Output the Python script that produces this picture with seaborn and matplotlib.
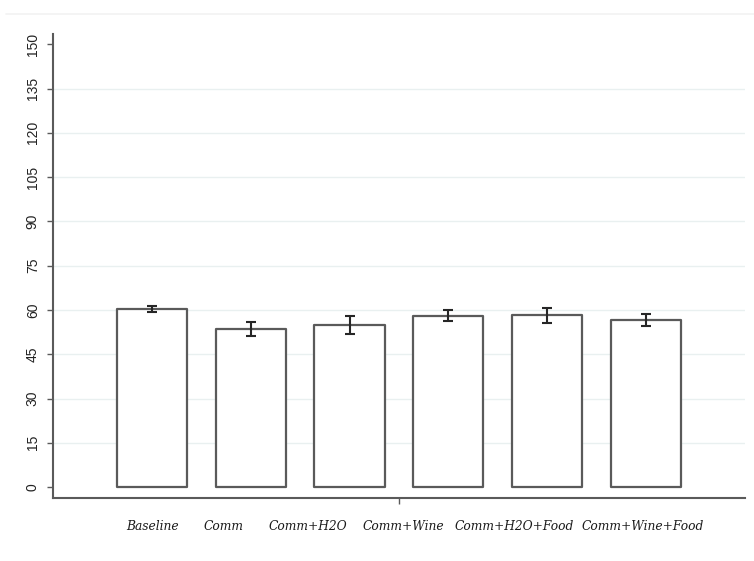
import numpy as np
import pandas as pd
import matplotlib
matplotlib.use("Agg")
import matplotlib.pyplot as plt
from matplotlib.lines import Line2D
import seaborn as sns

# Treatment groups and their mean scores with standard errors
conditions = ["Baseline", "Comm", "Comm+H2O", "Comm+Wine",
              "Comm+H2O+Food", "Comm+Wine+Food"]
means = [60.3, 53.5, 54.9, 58.1, 58.2, 56.5]
errors = [1.1, 2.4, 3.0, 1.9, 2.5, 2.0]
y_ticks = [0, 15, 30, 45, 60, 75, 90, 105, 120, 135, 150]

# horizontal placement of the category captions (axis units)
label_x = [0.01, 0.72, 1.58, 2.54, 3.67, 4.97]

df = pd.DataFrame({"condition": conditions, "mean": means, "se": errors})

sns.set_theme(style="white")
fig = plt.figure(figsize=(7.54, 5.61), dpi=100)
ax = fig.add_axes([0.0703, 0.1123, 0.9177, 0.8267])

axis_gray = "#5a5a5a"

# faint rule along the top of the figure
fig.add_artist(Line2D([0.008, 1.0], [0.975, 0.975], transform=fig.transFigure,
                      color="#f2f2f2", lw=1.2))

sns.barplot(data=df, x="condition", y="mean", order=conditions,
            color="white", edgecolor=axis_gray, linewidth=1.6,
            width=0.71, errorbar=None, ax=ax, zorder=3)
for p in ax.patches:
    p.set_joinstyle("round")

ax.errorbar(x=np.arange(len(conditions)), y=df["mean"], yerr=df["se"],
            fmt="none", ecolor="#262626", elinewidth=1.5,
            capsize=3.5, capthick=1.5, zorder=4)

ax.set_xlim(-1.0, 6.0)
ax.set_ylim(-3.7, 153.4)

# light horizontal grid lines between the end ticks
for v in y_ticks[1:-1]:
    ax.axhline(v, color="#e9f0f0", lw=1.0, zorder=1)

ax.set_yticks(y_ticks)
ax.set_yticklabels([str(v) for v in y_ticks], rotation=90, va="center",
                   fontsize=10, family=["Liberation Sans", "DejaVu Sans"],
                   color="#222222")
ax.tick_params(axis="y", direction="out", length=4.5, width=1.0,
               color=axis_gray, pad=5, left=True)

# single centred tick below the category axis
ax.set_xticks([2.5])
ax.set_xticklabels([""])
ax.tick_params(axis="x", direction="out", length=4.5, width=1.0,
               color=axis_gray, bottom=True)
for xpos, name in zip(label_x, conditions):
    ax.text(xpos, -0.0625, name, transform=ax.get_xaxis_transform(),
            ha="center", va="center", fontsize=8.8, style="italic",
            family=["DejaVu Serif", "Liberation Serif"], color="#1a1a1a")

ax.set_xlabel("")
ax.set_ylabel("")
for side in ["top", "right"]:
    ax.spines[side].set_visible(False)
for side in ["left", "bottom"]:
    ax.spines[side].set_color(axis_gray)
    ax.spines[side].set_linewidth(1.5)
ax.grid(False)

fig.savefig("out.png", dpi=100, facecolor="white")
